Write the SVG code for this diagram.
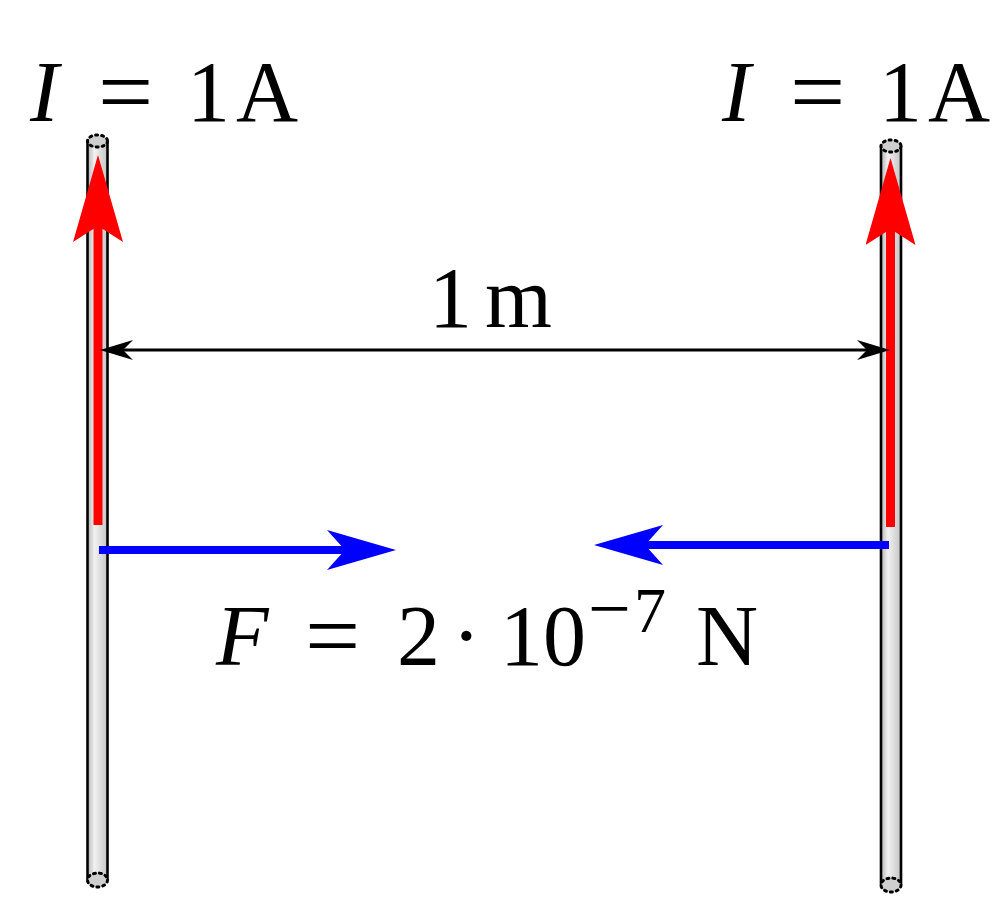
<svg xmlns="http://www.w3.org/2000/svg" width="1000" height="920" viewBox="0 0 1000 920">
<style>
.math{font-family:"Liberation Serif","Times New Roman",serif;font-size:86px;fill:#000}
.it{font-style:italic}
.eq{font-size:98px}
.sup{font-size:64px}
.supminus{font-size:76px}
.side{stroke:#000;stroke-width:2.6;fill:none}
.cap{fill:#cfcfcf;stroke:#000;stroke-width:3;stroke-dasharray:2 4;stroke-linecap:round}
.red{stroke:#ff0000;stroke-width:9;fill:none}
.blue{stroke:#0000ff;stroke-width:8;fill:none}
.dim{stroke:#000;stroke-width:3;fill:none}
</style>
<defs>
<linearGradient id="wireGrad" x1="0" y1="0" x2="1" y2="0">
<stop offset="0" stop-color="#b4b4b4"/>
<stop offset="0.35" stop-color="#f2f2f2"/>
<stop offset="1" stop-color="#c4c4c4"/>
</linearGradient>
<marker id="headRed" viewBox="0 0 87 50" refX="16" refY="25" markerWidth="87" markerHeight="50" markerUnits="userSpaceOnUse" orient="auto">
<path d="M0,0 L87,25 L0,50 L16,25 Z" fill="#ff0000"/>
</marker>
<marker id="headBlue" viewBox="0 0 69 40" refX="18" refY="20" markerWidth="69" markerHeight="40" markerUnits="userSpaceOnUse" orient="auto">
<path d="M0,0 L69,20 L0,40 L18,20 Z" fill="#0000ff"/>
</marker>
<marker id="headBlack" viewBox="0 0 33 20" refX="10" refY="10" markerWidth="33" markerHeight="20" markerUnits="userSpaceOnUse" orient="auto-start-reverse">
<path d="M0,0 L33,10 L0,20 L10,10 Z" fill="#000"/>
</marker>
</defs>

<g id="wire-left">
<rect x="87.5" y="141" width="20" height="739" fill="url(#wireGrad)"/>
<line class="side" x1="87.5" y1="141" x2="87.5" y2="880"/>
<line class="side" x1="107.5" y1="141" x2="107.5" y2="880"/>
<ellipse class="cap" cx="97.5" cy="141" rx="10" ry="6"/>
<ellipse class="cap" cx="97.5" cy="880" rx="10" ry="7"/>
</g>

<g id="wire-right">
<rect x="881" y="146" width="20" height="739" fill="url(#wireGrad)"/>
<line class="side" x1="881" y1="146" x2="881" y2="885"/>
<line class="side" x1="901" y1="146" x2="901" y2="885"/>
<ellipse class="cap" cx="891" cy="146" rx="10" ry="6"/>
<ellipse class="cap" cx="891" cy="885" rx="10" ry="7"/>
</g>

<g id="connectors">
<path id="current-left" class="red" d="M98,525 L98,226" marker-end="url(#headRed)"/>
<path id="current-right" class="red" d="M890.5,527 L890.5,229" marker-end="url(#headRed)"/>
<path id="distance" class="dim" d="M867,350 L123,350" marker-start="url(#headBlack)" marker-end="url(#headBlack)"/>
<path id="force-left" class="blue" d="M99,550 L345,550" marker-end="url(#headBlue)"/>
<path id="force-right" class="blue" d="M889,545 L645,545" marker-end="url(#headBlue)"/>
</g>

<g id="labels">
<text id="label-left" class="math" y="121"><tspan x="30" class="it">I</tspan><tspan class="eq" x="98" y="124">=</tspan><tspan x="187" y="121">1</tspan><tspan x="236">A</tspan></text>
<text id="label-right" class="math" y="121"><tspan x="722" class="it">I</tspan><tspan class="eq" x="790" y="124">=</tspan><tspan x="879" y="121">1</tspan><tspan x="928">A</tspan></text>
<text id="label-distance" class="math" y="327"><tspan x="429">1</tspan><tspan x="485">m</tspan></text>
<text id="label-force" class="math" y="665"><tspan x="216" class="it">F</tspan><tspan class="eq" x="305" y="668">=</tspan><tspan x="397" y="665">2</tspan><tspan x="452">·</tspan><tspan x="500">10</tspan><tspan class="supminus" x="588" y="634">−</tspan><tspan class="sup" x="634" y="632">7</tspan><tspan x="696" y="665">N</tspan></text>
</g>
</svg>
